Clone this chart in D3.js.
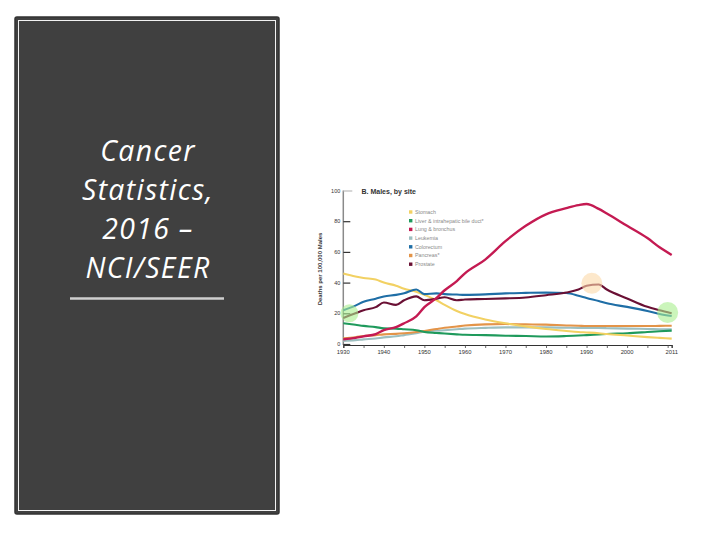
<!DOCTYPE html>
<html>
<head>
<meta charset="utf-8">
<script src="https://cdn.jsdelivr.net/npm/d3@7"></script>
<style>
  html, body { margin: 0; padding: 0; background: #fff; }
  svg { display: block; }
</style>
</head>
<body>
<div id="viz"></div>
<script>
// values (deaths per 100,000 males)
const years = [1930,1933,1935,1938,1940,1943,1945,1948,1950,1953,1955,1958,1960,1965,1970,1975,1980,1985,1988,1990,1993,1995,2000,2005,2008,2011]
const stomach    = [46,44,43,42,40,38,36,34,32,28.5,25.5,21.5,19.5,16,13.5,11.5,9.8,8.5,7.8,7.5,7,6.5,5.5,4.5,4,3.5]
const liver      = [13.5,12.5,11.8,11,10.2,10,9.6,9,7.8,7.2,6.8,6.3,6,5.8,5.4,5.2,4.9,5.2,5.5,5.8,6.2,6.5,7,7.8,8.3,8.7]
const lung       = [3,4,5,6.5,9,11,13.5,18,24,30,35,41,46,55,67,77,84.5,88.5,90.5,91.2,88,85,77,69,63,58]
const leukemia   = [2,2.5,3,3.6,4.3,5,5.8,7,8,8.6,9,9.6,10,10.5,10.8,10.8,10.8,10.6,10.5,10.5,10.4,10.3,10,9.8,9.6,9.5]
const colorectum = [22,25,27.5,29.5,31,32,33,35.5,32.5,33,32.5,32.2,32,32.3,33,33.3,33.5,33.2,31.5,30,28,26.5,24.2,21.5,19.5,18.2]
const pancreas   = [3.7,4.4,5.2,5.8,6.3,6.6,7,7.8,8.5,9.8,10.6,11.4,12,12.8,13,12.8,12.6,12.1,11.9,11.7,11.7,11.7,11.7,11.7,11.8,11.9]
const prostate   = [17,20,22,24,27,25.5,28.5,31,28.5,29.5,30.5,28.5,29,29.3,29.7,30.3,31.8,33.5,35.5,38,38.8,35.5,29.7,24.2,22,20]

const siteNames = ["Stomach", "Liver & intrahepatic bile duct*", "Lung & bronchus", "Leukemia", "Colorectum", "Pancreas*", "Prostate"]
const siteValues = [stomach, liver, lung, leukemia, colorectum, pancreas, prostate]
const siteColors = ["#f2d163", "#1f9a5c", "#c41a52", "#9dbfc0", "#1f6ea6", "#e39449", "#6a1034"]
// drawing order (back to front)
const drawOrder = [3, 5, 1, 0, 4, 6, 2]

const xTickYears = [1930,1940,1950,1960,1970,1980,1990,2000,2011]
const minorTickYears = [1930,1935,1940,1945,1950,1955,1960,1965,1970,1975,1980,1985,1990,1995,2000,2005,2010,2011]
const yTicks = [0,20,40,60,80,100]

// highlight circles on the figure
const markYears  = [1931.5, 1991.3, 2010]
const markValues = [20, 39.5, 20.5]
const markColors = ["#a8ee8e", "#fbd8a8", "#a8ee8e"]

const titleLines = ["Cancer", "Statistics,", "2016 \u2013", "NCI/SEER"]

const width = 720, height = 540
const svg = d3.select("#viz").append("svg")
    .attr("width", width)
    .attr("height", height)

// left dark panel
svg.append("rect")
    .attr("x", 15).attr("y", 17).attr("width", 264).attr("height", 497)
    .attr("rx", 2)
    .attr("fill", "#404040")
    .attr("stroke", "#333").attr("stroke-width", 1.5)
svg.append("rect")
    .attr("x", 18.5).attr("y", 20.5).attr("width", 257).attr("height", 490)
    .attr("fill", "none")
    .attr("stroke", "#f2f2f2").attr("stroke-width", 1)

const title = svg.append("g").selectAll("text")
    .data(titleLines)
    .enter().append("text")
    .attr("x", 148)
    .attr("y", (d, i) => 161 + i * 39)
    .attr("text-anchor", "middle")
    .attr("font-family", "'Open Sans', Lato, sans-serif")
    .attr("font-style", "italic")
    .attr("font-size", 28.4)
    .attr("fill", "#fff")
    .text(d => d)

// widen letters a little so the long line gets close to the width it has in the picture
const long = title.filter((d, i) => i === 1)
const w0 = long.node().getComputedTextLength()
const n = titleLines[1].length
if (w0 > 0 && w0 < 132) title.attr("letter-spacing", ((132 - w0) / n).toFixed(2))

svg.append("line")
    .attr("x1", 70).attr("x2", 224)
    .attr("y1", 298.5).attr("y2", 298.5)
    .attr("stroke", "#cfcfcf").attr("stroke-width", 2.5)

// chart
const x = d3.scaleLinear().domain([1930, 2011]).range([343.3, 671.7])
const y = d3.scaleLinear().domain([0, 100]).range([344, 190.5])

const chart = svg.append("g").attr("font-family", "Arial, 'Liberation Sans', sans-serif")

// y axis line
chart.append("line")
    .attr("x1", x(1930)).attr("x2", x(1930))
    .attr("y1", y(100)).attr("y2", y(0) + 1)
    .attr("stroke", "#8a8a8a").attr("stroke-width", 1.5)

const yAxis = d3.axisRight(y).tickValues(yTicks).tickSize(7).tickFormat("")
chart.append("g")
    .attr("transform", "translate(" + x(1930) + ",0)")
    .call(yAxis)
    .call(g => g.select(".domain").remove())
    .call(g => g.selectAll(".tick line")
        .attr("stroke", d => d === 100 ? "#bbb" : "#333")
        .attr("stroke-width", 1.2)
        .attr("x2", d => d === 100 ? 9 : 7))

chart.append("g").selectAll("text")
    .data(yTicks)
    .enter().append("text")
    .attr("x", x(1930) - 3)
    .attr("y", d => y(d) + 2)
    .attr("text-anchor", "end")
    .attr("font-size", 5.5)
    .attr("fill", "#333")
    .text(d => d)

// x axis
const xAxis = d3.axisBottom(x).tickValues(minorTickYears).tickSize(3).tickFormat("")
chart.append("g")
    .attr("transform", "translate(0," + (y(0) + 1) + ")")
    .call(xAxis)
    .call(g => g.select(".domain").attr("stroke", "#333").attr("stroke-width", 1.2))
    .call(g => g.selectAll(".tick line").attr("stroke", "#444").attr("stroke-width", 0.8))

chart.append("g").selectAll("text")
    .data(xTickYears)
    .enter().append("text")
    .attr("x", d => x(d))
    .attr("y", y(0) + 10)
    .attr("text-anchor", "middle")
    .attr("font-size", 5.8)
    .attr("fill", "#333")
    .text(d => d)

// y axis label
chart.append("text")
    .attr("transform", "translate(322," + 269 + ") rotate(-90)")
    .attr("text-anchor", "middle")
    .attr("font-size", 6)
    .attr("font-weight", "bold")
    .attr("fill", "#333")
    .text("Deaths per 100,000 Males")

// panel title
chart.append("text")
    .attr("x", 361.5).attr("y", 194)
    .attr("font-size", 7)
    .attr("font-weight", "bold")
    .attr("fill", "#333")
    .text("B. Males, by site")

// lines
const line = d3.line()
    .x((d, i) => x(years[i]))
    .y(d => y(d))
    .curve(d3.curveMonotoneX)

chart.append("g").selectAll("path")
    .data(drawOrder)
    .enter().append("path")
    .attr("d", k => line(siteValues[k]))
    .attr("fill", "none")
    .attr("stroke", k => siteColors[k])
    .attr("stroke-width", k => k === 2 ? 2.4 : 2.1)
    .attr("stroke-linejoin", "round")

// highlight circles
chart.append("g").selectAll("circle")
    .data(markYears)
    .enter().append("circle")
    .attr("cx", d => x(d))
    .attr("cy", (d, i) => y(markValues[i]))
    .attr("r", (d, i) => i === 0 ? 9 : 10.5)
    .attr("fill", (d, i) => markColors[i])
    .attr("opacity", 0.6)

// legend
const legend = chart.append("g")
    .selectAll("g")
    .data(siteNames)
    .enter().append("g")
    .attr("transform", (d, i) => "translate(409," + (212 + i * 8.7) + ")")

legend.append("rect")
    .attr("x", 0).attr("y", -1.7)
    .attr("width", 3.4).attr("height", 3.4)
    .attr("fill", (d, i) => siteColors[i])

legend.append("text")
    .attr("x", 6).attr("y", 1.9)
    .attr("font-size", 5.3)
    .attr("fill", "#8a8a8a")
    .text(d => d)
</script>
</body>
</html>
